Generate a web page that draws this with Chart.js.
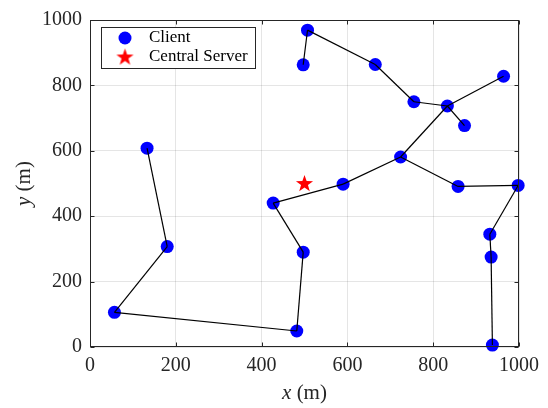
<!DOCTYPE html>
<html>
<head>
<meta charset="utf-8">
<script src="https://cdn.jsdelivr.net/npm/chart.js@4/dist/chart.umd.min.js"></script>
<style>
  body { margin: 0; background: #fff; }
  canvas { display: block; }
</style>
</head>
<body>
<canvas id="net" width="548" height="408"></canvas>
<script>
// client positions (m)
const clientX = [507, 497, 665, 755, 833, 873, 964, 724, 590, 858, 998, 427, 497, 482, 57, 180, 133, 932, 935, 938];
const clientY = [969, 863, 864, 750, 737, 677, 828, 581, 498, 491, 494, 440, 290, 49, 106, 307, 608, 345, 275, 6];
// central server
const serverX = [500];
const serverY = [500];
// tree links, as pairs of client indices
const links = [
  [1, 0], [0, 2], [2, 3], [3, 4], [4, 5], [4, 6], [4, 7],
  [7, 8], [8, 11], [11, 12], [12, 13], [13, 14], [14, 15], [15, 16],
  [7, 9], [9, 10], [10, 17], [17, 18], [18, 19]
];
const axisTicks = [0, 200, 400, 600, 800, 1000];

const ink = "#262626";
const serif = "'Liberation Serif', 'DejaVu Serif', serif";

function makeStar(size, color) {
  const c = document.createElement("canvas");
  c.width = size;
  c.height = size;
  const g = c.getContext("2d");
  const cx = size / 2, cy = size / 2 + 0.5;
  const outer = size / 2 - 0.5, inner = outer * 0.4;
  g.beginPath();
  for (let i = 0; i < 10; i++) {
    const r = i % 2 === 0 ? outer : inner;
    const a = -Math.PI / 2 + (i * Math.PI) / 5;
    const px = cx + r * Math.cos(a), py = cy + r * Math.sin(a);
    if (i === 0) g.moveTo(px, py);
    else g.lineTo(px, py);
  }
  g.closePath();
  g.fillStyle = color;
  g.fill();
  return c;
}
const starImg = makeStar(19, "#ff0000");

let datasets = [];
links.forEach(([a, b]) => {
  datasets.push({
    label: "link",
    data: [
      { x: clientX[a], y: clientY[a] },
      { x: clientX[b], y: clientY[b] },
    ],
    showLine: true,
    borderColor: "#000",
    borderWidth: 1.2,
    pointRadius: 0,
    clip: false,
  });
});
datasets.push({
  label: "Client",
  data: clientX.map((x, i) => ({ x: x, y: clientY[i] })),
  showLine: false,
  pointRadius: 6.5,
  pointBackgroundColor: "#0000ff",
  pointBorderWidth: 0,
  clip: false,
});
datasets.push({
  label: "Central Server",
  data: serverX.map((x, i) => ({ x: x, y: serverY[i] })),
  showLine: false,
  pointStyle: starImg,
  clip: false,
});

// box, inward ticks, axis titles and legend
const framePlugin = {
  id: "frame",
  afterDraw(chart) {
    const ctx = chart.ctx;
    const area = chart.chartArea;
    const xs = chart.scales.x, ys = chart.scales.y;
    ctx.save();
    ctx.strokeStyle = ink;
    ctx.lineWidth = 1;
    const l = Math.round(area.left) + 0.5, r = Math.round(area.right) - 0.5;
    const t = Math.round(area.top) + 0.5, b = Math.round(area.bottom) - 0.5;
    ctx.strokeRect(l, t, r - l, b - t);
    ctx.beginPath();
    axisTicks.forEach((v) => {
      const px = Math.round(xs.getPixelForValue(v)) + 0.5;
      ctx.moveTo(px, b); ctx.lineTo(px, b - 4);
      ctx.moveTo(px, t); ctx.lineTo(px, t + 4);
      const py = Math.round(ys.getPixelForValue(v)) + 0.5;
      ctx.moveTo(l, py); ctx.lineTo(l + 4, py);
      ctx.moveTo(r, py); ctx.lineTo(r - 4, py);
    });
    ctx.stroke();

    // axis titles
    ctx.fillStyle = ink;
    ctx.textBaseline = "middle";
    const cx = (area.left + area.right) / 2;
    const italic = "italic 21px " + serif, upright = "21px " + serif;
    ctx.font = italic;
    const wx = ctx.measureText("x").width;
    ctx.font = upright;
    const wr = ctx.measureText(" (m)").width;
    let sx = cx - (wx + wr) / 2;
    ctx.textAlign = "left";
    ctx.font = italic;
    ctx.fillText("x", sx, 393);
    ctx.font = upright;
    ctx.fillText(" (m)", sx + wx, 393);

    ctx.save();
    ctx.translate(24, (area.top + area.bottom) / 2);
    ctx.rotate(-Math.PI / 2);
    ctx.font = italic;
    const wy = ctx.measureText("y").width;
    sx = -(wy + wr) / 2;
    ctx.fillText("y", sx, 0);
    ctx.font = upright;
    ctx.fillText(" (m)", sx + wy, 0);
    ctx.restore();

    // legend
    ctx.fillStyle = "#fff";
    ctx.fillRect(101.5, 27.5, 154, 41);
    ctx.strokeStyle = ink;
    ctx.strokeRect(101.5, 27.5, 154, 41);
    ctx.fillStyle = "#0000ff";
    ctx.beginPath();
    ctx.arc(125, 38, 6.5, 0, Math.PI * 2);
    ctx.fill();
    ctx.drawImage(starImg, 125 - starImg.width / 2, 57 - starImg.height / 2);
    ctx.fillStyle = "#000";
    ctx.font = "17px " + serif;
    ctx.fillText("Client", 149, 38);
    ctx.fillText("Central Server", 149, 57);
    ctx.restore();
  },
};

const tickFont = { family: serif, size: 20 };
const plainLabel = (v) => String(v);
new Chart(document.getElementById("net"), {
  type: "scatter",
  data: { datasets: datasets },
  options: {
    responsive: false,
    animation: false,
    layout: { padding: { top: 16, right: 29, left: 0, bottom: 0 } },
    plugins: { legend: { display: false }, tooltip: { enabled: false } },
    scales: {
      x: {
        type: "linear",
        min: 0,
        max: 1000,
        afterBuildTicks: (s) => { s.ticks = axisTicks.map((v) => ({ value: v })); },
        afterFit: (s) => { s.height = 61; },
        ticks: { color: ink, font: tickFont, padding: 7, maxRotation: 0, callback: plainLabel },
        grid: { color: "rgba(38,38,38,0.12)", drawTicks: false },
        border: { display: false },
      },
      y: {
        type: "linear",
        min: 0,
        max: 1000,
        afterBuildTicks: (s) => { s.ticks = axisTicks.map((v) => ({ value: v })); },
        afterFit: (s) => { s.width = 90; },
        ticks: { color: ink, font: tickFont, padding: 8, callback: plainLabel },
        grid: { color: "rgba(38,38,38,0.12)", drawTicks: false },
        border: { display: false },
      },
    },
  },
  plugins: [framePlugin],
});
</script>
</body>
</html>
